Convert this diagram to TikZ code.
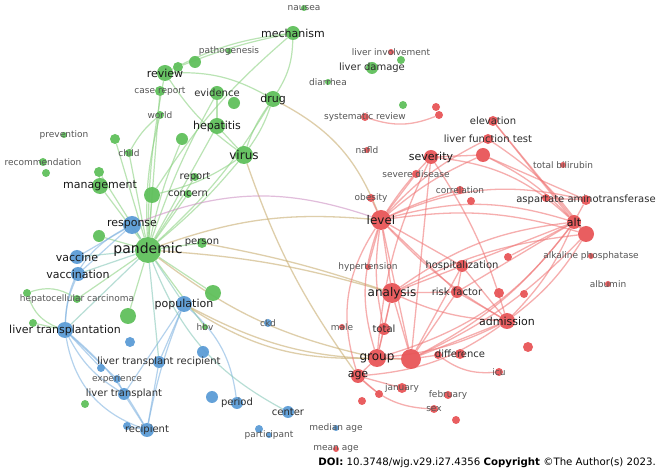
\documentclass[tikz,border=0pt]{standalone}
\usepackage{fontspec}
\setmainfont{DejaVu Sans}
\pgfdeclarelayer{bg}
\pgfdeclarelayer{edges}
\pgfdeclarelayer{labels}
\pgfsetlayers{bg,edges,main,labels}
\definecolor{gN}{RGB}{96,192,92}
\definecolor{rN}{RGB}{232,86,88}
\definecolor{bN}{RGB}{92,156,214}
\definecolor{gE}{RGB}{140,210,130}
\definecolor{rE}{RGB}{240,120,120}
\definecolor{bE}{RGB}{130,180,225}
\definecolor{grE}{RGB}{205,180,125}
\definecolor{brE}{RGB}{205,145,195}
\definecolor{gbE}{RGB}{135,200,185}
\definecolor{txS}{RGB}{85,85,85}
\definecolor{txM}{RGB}{45,45,45}
\definecolor{txL}{RGB}{25,25,25}
\tikzset{
  vn/.style={circle, inner sep=0pt, draw=none, fill opacity=0.95},
  labS/.style={font=\fontsize{9}{9}\selectfont, text=txS, inner sep=0pt},
  labM/.style={font=\fontsize{10}{10}\selectfont, text=txM, inner sep=0pt},
  labL/.style={font=\fontsize{11}{11}\selectfont, text=txL, inner sep=0pt},
  labXL/.style={font=\fontsize{12}{12}\selectfont, text=txL, inner sep=0pt},
  labXX/.style={font=\fontsize{14}{14}\selectfont, text=txL, inner sep=0pt},
  ge/.style={draw=gE, line width=1.2pt, opacity=0.6},
  re/.style={draw=rE, line width=1.3pt, opacity=0.6},
  be/.style={draw=bE, line width=1.2pt, opacity=0.6},
  gre/.style={draw=grE, line width=1.3pt, opacity=0.65},
  bre/.style={draw=brE, line width=1.2pt, opacity=0.6},
  gbe/.style={draw=gbE, line width=1.2pt, opacity=0.6},
}
\newcommand{\vosn}[7]{%
  \node[vn, fill=#5, minimum size=#4*2pt] (#1) at (#2,-#3) {};
  \begin{pgfonlayer}{labels}\node[#6] at (#1) {#7};\end{pgfonlayer}}
\newcommand{\vosu}[5]{%
  \node[vn, fill=#5, minimum size=#4*2pt] (#1) at (#2,-#3) {};}
\begin{document}
\begin{tikzpicture}[x=1pt,y=1pt]
\begin{pgfonlayer}{bg}
\fill[white] (0,0) rectangle (662,-470);
\end{pgfonlayer}
\useasboundingbox (0,0) rectangle (662,-470);
% ---------------- green cluster
\vosn{nausea}{304}{8}{3}{gN}{labS}{nausea}
\vosn{mechanism}{293}{33}{7}{gN}{labL}{mechanism}
\vosn{pathogenesis}{229}{51}{3}{gN}{labS}{pathogenesis}
\vosu{g1}{195}{62}{6}{gN}
\vosu{g2}{178}{67}{5}{gN}
\vosn{review}{165}{73}{8}{gN}{labL}{review}
\vosn{casereport}{160}{91}{5}{gN}{labS}{case report}
\vosn{evidence}{217}{93}{7}{gN}{labM}{evidence}
\vosu{g3}{234}{103}{6}{gN}
\vosn{drug}{273}{99}{8}{gN}{labL}{drug}
\vosn{world}{160}{115}{4}{gN}{labS}{world}
\vosn{hepatitis}{217}{126}{8}{gN}{labL}{hepatitis}
\vosn{prevention}{64}{135}{3}{gN}{labS}{prevention}
\vosu{g4}{115}{139}{5}{gN}
\vosu{g5}{182}{139}{6}{gN}
\vosn{child}{129}{153}{4}{gN}{labS}{child}
\vosn{virus}{244}{155}{9}{gN}{labXL}{virus}
\vosn{recommendation}{43}{162}{4}{gN}{labS}{recommendation}
\vosu{g6}{46}{173}{4}{gN}
\vosu{g7}{99}{172}{5}{gN}
\vosn{report}{195}{177}{4}{gN}{labM}{report}
\vosn{management}{100}{186}{8}{gN}{labL}{management}
\vosu{g8}{152}{195}{8}{gN}
\vosn{concern}{188}{194}{4}{gN}{labM}{concern}
\vosn{response}{132}{225}{9}{bN}{labL}{response}
\vosu{g9}{99}{236}{6}{gN}
\vosn{pandemic}{148}{250}{13}{gN}{labXX}{pandemic}
\vosn{person}{202}{243}{5}{gN}{labM}{person}
\vosn{vaccine}{77}{257}{7}{bN}{labL}{vaccine}
\vosn{vaccination}{78}{274}{7}{bN}{labL}{vaccination}
\vosu{g10}{27}{293}{4}{gN}
\vosn{hcc}{77}{299}{4}{gN}{labS}{hepatocellular carcinoma}
\vosu{g11}{213}{293}{8}{gN}
\vosn{population}{184}{304}{8}{bN}{labL}{population}
\vosu{g12}{128}{316}{8}{gN}
\vosu{g13}{33}{323}{4}{gN}
\vosn{livertx}{65}{330}{8}{bN}{labL}{liver transplantation}
\vosn{hbv}{205}{327}{3}{gN}{labS}{hbv}
\vosn{ckd}{268}{323}{4}{bN}{labS}{ckd}
% ---------------- blue cluster
\vosu{b1}{130}{342}{5}{bN}
\vosu{b2}{203}{352}{6}{bN}
\vosn{ltr}{159}{362}{6}{bN}{labM}{liver transplant recipient}
\vosu{b3}{101}{368}{4}{bN}
\vosn{experience}{117}{379}{4}{bN}{labS}{experience}
\vosn{livertransplant}{124}{394}{6}{bN}{labM}{liver transplant}
\vosu{g14}{85}{404}{4}{gN}
\vosu{b4}{212}{397}{6}{bN}
\vosn{period}{237}{403}{6}{bN}{labM}{period}
\vosn{center}{288}{412}{6}{bN}{labM}{center}
\vosu{b5}{127}{426}{4}{bN}
\vosn{recipient}{147}{430}{7}{bN}{labM}{recipient}
\vosu{b6}{259}{429}{4}{bN}
\vosn{participant}{269}{435}{3}{bN}{labS}{participant}
\vosn{medianage}{336}{428}{3}{bN}{labS}{median age}
\vosn{meanage}{336}{449}{3}{rN}{labS}{mean age}
% ---------------- top middle
\vosn{liverinv}{391}{52}{3}{rN}{labS}{liver involvement}
\vosu{g15}{401}{60}{4}{gN}
\vosn{liverdamage}{372}{68}{6}{gN}{labM}{liver damage}
\vosn{diarrhea}{328}{82}{3}{gN}{labS}{diarrhea}
\vosu{g16}{403}{105}{4}{gN}
\vosu{r1}{436}{107}{4}{rN}
\vosu{r2}{439}{115}{4}{rN}
\vosn{sysrev}{365}{117}{4}{rN}{labS}{systematic review}
% ---------------- red cluster
\vosn{elevation}{493}{121}{5}{rN}{labM}{elevation}
\vosn{lft}{488}{139}{5}{rN}{labM}{liver function test}
\vosn{nafld}{367}{150}{3}{rN}{labS}{nafld}
\vosn{severity}{431}{157}{7}{rN}{labL}{severity}
\vosu{r3}{483}{155}{7}{rN}
\vosn{tbil}{563}{165}{3}{rN}{labS}{total bilirubin}
\vosn{severedisease}{416}{174}{4}{rN}{labS}{severe disease}
\vosn{correlation}{460}{190}{4}{rN}{labS}{correlation}
\vosu{r4}{471}{201}{4}{rN}
\vosn{obesity}{371}{198}{4}{rN}{labS}{obesity}
\vosu{r5}{546}{198}{4}{rN}
\vosn{ast}{586}{200}{5}{rN}{labM}{aspartate aminotransferase}
\vosn{level}{381}{220}{10}{rN}{labXL}{level}
\vosn{alt}{574}{222}{7}{rN}{labL}{alt}
\vosu{r6}{586}{234}{8}{rN}
\vosu{r7}{508}{257}{4}{rN}
\vosn{alp}{591}{256}{3}{rN}{labS}{alkaline phosphatase}
\vosn{hypertension}{368}{267}{3}{rN}{labS}{hypertension}
\vosn{hosp}{462}{266}{6}{rN}{labM}{hospitalization}
\vosn{albumin}{608}{284}{3}{rN}{labS}{albumin}
\vosn{analysis}{392}{293}{10}{rN}{labXL}{analysis}
\vosn{riskfactor}{457}{292}{6}{rN}{labM}{risk factor}
\vosu{r8}{499}{293}{5}{rN}
\vosu{r9}{524}{294}{4}{rN}
\vosn{admission}{507}{321}{8}{rN}{labL}{admission}
\vosn{male}{342}{327}{3}{rN}{labS}{male}
\vosn{total}{384}{329}{6}{rN}{labM}{total}
\vosu{r10}{528}{347}{5}{rN}
\vosn{group}{377}{358}{9}{rN}{labXL}{group}
\vosu{r11}{411}{359}{10}{rN}
\vosu{r12}{438}{355}{4}{rN}
\vosn{difference}{460}{354}{5}{rN}{labM}{difference}
\vosn{icu}{499}{372}{4}{rN}{labS}{icu}
\vosn{age}{358}{376}{7}{rN}{labL}{age}
\vosn{january}{402}{388}{5}{rN}{labS}{january}
\vosu{r13}{379}{394}{4}{rN}
\vosn{february}{448}{395}{4}{rN}{labS}{february}
\vosu{r14}{362}{401}{4}{rN}
\vosn{sex}{434}{409}{4}{rN}{labS}{sex}
\vosu{r15}{456}{420}{4}{rN}
% ---------------- edges
\begin{pgfonlayer}{edges}
% green
\draw[ge] (pandemic) -- (management);
\draw[ge] (pandemic) -- (g8);
\draw[ge] (pandemic) -- (concern);
\draw[ge] (pandemic) -- (report);
\draw[ge] (pandemic) to[bend right=5] (virus);
\draw[ge] (pandemic) -- (hepatitis);
\draw[ge] (pandemic) to[bend left=5] (evidence);
\draw[ge] (pandemic) to[bend left=5] (review);
\draw[ge] (pandemic) -- (casereport);
\draw[ge] (pandemic) to[bend left=8] (world);
\draw[ge] (pandemic) -- (g4);
\draw[ge] (pandemic) -- (g9);
\draw[ge] (pandemic) -- (person);
\draw[ge] (pandemic) -- (g11);
\draw[ge] (pandemic) -- (g12);
\draw[ge] (pandemic) -- (hbv);
\draw[ge] (pandemic) -- (hcc);
\draw[ge] (pandemic) -- (g7);
\draw[ge] (pandemic) -- (child);
\draw[ge] (pandemic) to[bend right=8] (drug);
\draw[ge] (pandemic) to[bend left=5] (g5);
\draw[ge] (mechanism) to[bend right=10] (review);
\draw[ge] (mechanism) to[bend right=5] (g2);
\draw[ge] (mechanism) to[bend left=15] (drug);
\draw[ge] (mechanism) to[bend right=8] (g8);
\draw[ge] (review) to[bend left=15] (drug);
\draw[ge] (review) to[bend right=10] (virus);
\draw[ge] (drug) to[bend right=8] (virus);
\draw[ge] (drug) to[bend left=8] (virus);
\draw[ge] (hepatitis) -- (virus);
\draw[ge] (evidence) -- (hepatitis);
\draw[ge] (world) to[bend right=10] (child);
\draw[ge] (management) -- (g7);
\draw[ge] (g10) to[bend left=25] (hcc);
\draw[ge] (g10) to[bend right=25] (livertx);
\draw[ge] (g13) -- (livertx);
\draw[ge] (virus) to[bend left=10] (g8);
% green-red
\draw[gre] (pandemic) to[bend left=12] (level);
\draw[gre] (pandemic) to[bend left=6] (analysis);
\draw[gre] (person) to[bend left=4] (analysis);
\draw[gre] (pandemic) to[bend right=12] (group);
\draw[gre] (population) to[bend right=14] (r11);
\draw[gre] (population) to[bend right=17] (group);
\draw[gre] (drug) to[bend left=20] (level);
\draw[gre] (virus) to[bend right=8] (age);
\draw[bre] (response) to[bend left=20] (level);
% red
\draw[re] (level) to[bend left=5] (severity);
\draw[re] (level) -- (severedisease);
\draw[re] (level) -- (obesity);
\draw[re] (level) to[bend left=16] (alt);
\draw[re] (level) to[bend left=12] (r6);
\draw[re] (level) to[bend left=18] (ast);
\draw[re] (level) to[bend left=10] (lft);
\draw[re] (level) to[bend left=8] (r3);
\draw[re] (level) -- (analysis);
\draw[re] (level) to[bend right=10] (total);
\draw[re] (level) to[bend right=18] (group);
\draw[re] (level) to[bend right=25] (age);
\draw[re] (level) -- (hosp);
\draw[re] (level) -- (riskfactor);
\draw[re] (level) to[bend right=8] (admission);
\draw[re] (level) -- (hypertension);
\draw[re] (level) to[bend left=5] (correlation);
\draw[re] (level) -- (r11);
\draw[re] (analysis) to[bend left=14] (alt);
\draw[re] (analysis) to[bend right=10] (admission);
\draw[re] (analysis) -- (riskfactor);
\draw[re] (analysis) -- (hosp);
\draw[re] (analysis) -- (group);
\draw[re] (analysis) -- (r11);
\draw[re] (analysis) -- (total);
\draw[re] (analysis) to[bend left=10] (r6);
\draw[re] (severity) -- (r3);
\draw[re] (severity) to[bend left=18] (alt);
\draw[re] (severity) to[bend left=8] (admission);
\draw[re] (severity) -- (r11);
\draw[re] (severity) to[bend right=10] (group);
\draw[re] (r3) to[bend left=10] (alt);
\draw[re] (r3) -- (ast);
\draw[re] (elevation) -- (alt);
\draw[re] (elevation) -- (r6);
\draw[re] (lft) to[bend left=10] (r6);
\draw[re] (alt) -- (r6);
\draw[re] (alt) -- (ast);
\draw[re] (alt) to[bend left=10] (admission);
\draw[re] (alt) to[bend left=12] (r11);
\draw[re] (alt) to[bend left=18] (group);
\draw[re] (alt) -- (hosp);
\draw[re] (alt) -- (r7);
\draw[re] (alt) -- (riskfactor);
\draw[re] (r6) to[bend left=10] (admission);
\draw[re] (r6) to[bend left=10] (r11);
\draw[re] (ast) -- (r5);
\draw[re] (admission) to[bend left=10] (group);
\draw[re] (admission) -- (r11);
\draw[re] (admission) -- (riskfactor);
\draw[re] (admission) -- (hosp);
\draw[re] (admission) to[bend left=15] (age);
\draw[re] (group) -- (age);
\draw[re] (group) -- (r11);
\draw[re] (group) -- (total);
\draw[re] (r11) -- (r12);
\draw[re] (r11) -- (riskfactor);
\draw[re] (r11) -- (hosp);
\draw[re] (r12) to[bend right=20] (icu);
\draw[re] (age) to[bend right=20] (sex);
\draw[re] (age) -- (january);
\draw[re] (age) -- (r13);
\draw[re] (sysrev) to[bend right=20] (r2);
\draw[re] (hosp) -- (riskfactor);
% blue
\draw[be] (response) -- (vaccine);
\draw[be] (response) -- (vaccination);
\draw[be] (response) to[bend right=30] (livertx);
\draw[be] (vaccination) to[bend right=10] (livertx);
\draw[be] (livertx) to[bend right=15] (livertransplant);
\draw[be] (livertx) to[bend left=10] (recipient);
\draw[be] (livertx) to[bend right=30] (recipient);
\draw[be] (livertx) -- (experience);
\draw[be] (livertx) -- (b3);
\draw[be] (livertransplant) -- (recipient);
\draw[be] (livertransplant) -- (experience);
\draw[be] (ltr) -- (recipient);
\draw[be] (population) -- (ltr);
\draw[be] (population) to[bend right=5] (recipient);
\draw[be] (population) -- (livertransplant);
\draw[be] (population) to[bend left=20] (period);
\draw[be] (recipient) -- (b5);
% green-blue
\draw[gbe] (pandemic) -- (population);
\draw[gbe] (pandemic) -- (response);
\draw[gbe] (pandemic) -- (vaccine);
\draw[gbe] (pandemic) -- (vaccination);
\draw[gbe] (pandemic) -- (livertx);
\draw[gbe] (pandemic) -- (ltr);
\draw[gbe] (pandemic) to[bend right=20] (center);
\end{pgfonlayer}
% footer
\node[anchor=base east, inner sep=0pt, text=black, font=\fontsize{10.2}{12}\selectfont] (doi) at (656,-466) {\textbf{DOI:} 10.3748/wjg.v29.i27.4356 \textbf{Copyright} ©The Author(s) 2023.};
\end{tikzpicture}
\end{document}
